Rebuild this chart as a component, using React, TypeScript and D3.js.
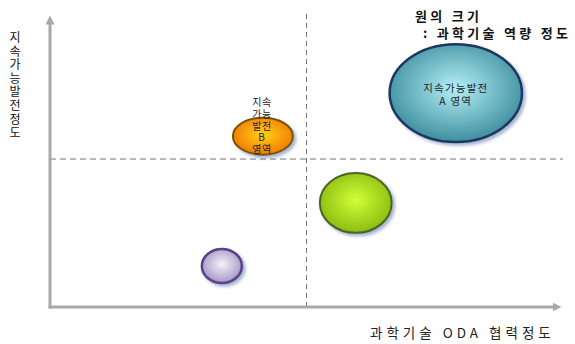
import React from "react";
import * as d3 from "d3";

const W = 575;
const H = 344;

const bubbleNames = ["A", "B", "C", "D"];
const xValues = [79.1, 41.5, 59.6, 33.5];
const yValues = [73.0, 58.3, 35.5, 14.0];
const xSpread = [12.9, 5.85, 7.0, 3.9];
const ySpread = [16.7, 6.3, 10.2, 5.8];
const bubbleLabels = [["지속가능발전", "A 영역"], ["지속", "가능", "발전", "B", "영역"], [], []];
const divX = 50;
const divY = 50.5;

const yAxisTitle = "지속가능발전정도";
const xAxisTitle = "과학기술 ODA 협력정도";
const legendLines = ["원의 크기", ": 과학기술 역량 정도"];

const styles = [
  { inner: "#b4f0f6", outer: "#3f8f9f", stroke: "#1d3760", sw: 2.5 },
  { inner: "#ffd21a", outer: "#f07a00", stroke: "#7a5200", sw: 2 },
  { inner: "#d2ff3a", outer: "#8cbc10", stroke: "#4c6420", sw: 2 },
  { inner: "#f4f2fa", outer: "#a496c4", stroke: "#5c3f8e", sw: 2.5 },
];

export default function App() {
  const x = d3.scaleLinear().domain([0, 100]).range([50, 563]);
  const y = d3.scaleLinear().domain([0, 100]).range([307, 14]);
  const font = "'Noto Sans CJK KR', 'Noto Sans', sans-serif";
  const ychars = Array.from(yAxisTitle);
  return (
    <svg width={W} height={H} style={{ position: "absolute", left: 0, top: 0, background: "#fff" }} fontFamily={font}>
      <defs>
        {styles.map((s, i) => (
          <radialGradient key={i} id={`g${i}`} cx="50%" cy="45%" r="55%">
            <stop offset="0%" stopColor={s.inner} />
            <stop offset="100%" stopColor={s.outer} />
          </radialGradient>
        ))}
        <filter id="sh" x="-20%" y="-20%" width="150%" height="150%">
          <feDropShadow dx="2.5" dy="2.5" stdDeviation="1.5" floodColor="#5a7aa8" floodOpacity="0.55" />
        </filter>
        <marker id="arr" viewBox="0 0 10 10" refX="5" refY="5" markerWidth="3" markerHeight="3" orient="auto">
          <path d="M0,0 L10,5 L0,10 Z" fill="#a8a8a8" />
        </marker>
      </defs>

      {/* divider dashed lines */}
      <line x1={x(divX)} x2={x(divX)} y1={y(100)} y2={y(0)} stroke="#777" strokeWidth={1} strokeDasharray="5,4" />
      <line x1={x(0)} x2={x(100)} y1={y(divY)} y2={y(divY)} stroke="#777" strokeWidth={1} strokeDasharray="6,4" />

      {/* axes */}
      <line x1={x(0)} x2={x(0)} y1={y(0) + 1.5} y2={y(100) + 6} stroke="#a8a8a8" strokeWidth={3} markerEnd="url(#arr)" />
      <line x1={x(0) - 1.5} x2={x(100) - 6} y1={y(0)} y2={y(0)} stroke="#a8a8a8" strokeWidth={3} markerEnd="url(#arr)" />

      {/* bubbles */}
      {bubbleNames.map((n, i) => {
        const cx = x(xValues[i]);
        const cy = y(yValues[i]);
        const rx = x(xSpread[i]) - x(0);
        const ry = y(0) - y(ySpread[i]);
        const s = styles[i];
        return (
          <g key={n}>
            <ellipse cx={cx} cy={cy} rx={rx} ry={ry} fill={`url(#g${i})`} stroke={s.stroke} strokeWidth={s.sw} filter="url(#sh)" />
          </g>
        );
      })}

      {/* bubble labels */}
      <g fontSize={10.5} fill="#222" textAnchor="middle">
        {bubbleLabels[0].map((t, j) => (
          <text key={j} x={x(xValues[0])} y={y(yValues[0]) - 1 + j * 13} letterSpacing={1.2}>{t}</text>
        ))}
        {bubbleLabels[1].map((t, j) => (
          <text key={j} x={x(xValues[1]) - 1} y={106 + j * 11.8} fontSize={10} letterSpacing={0.5}>{t}</text>
        ))}
      </g>

      {/* y axis title stacked */}
      <g fontSize={12} fill="#111" textAnchor="middle">
        {ychars.map((c, j) => (
          <text key={j} x={15} y={42 + j * 13.6}>{c}</text>
        ))}
      </g>

      {/* x axis title */}
      <text x={370} y={338} fontSize={13.5} fill="#222" letterSpacing={4}>{xAxisTitle}</text>

      {/* legend */}
      <text x={415} y={21} fontSize={13} fontWeight="bold" fill="#111" letterSpacing={3.3}>{legendLines[0]}</text>
      <text x={423} y={38} fontSize={13} fontWeight="bold" fill="#111" letterSpacing={3.3}>{legendLines[1]}</text>
    </svg>
  );
}
